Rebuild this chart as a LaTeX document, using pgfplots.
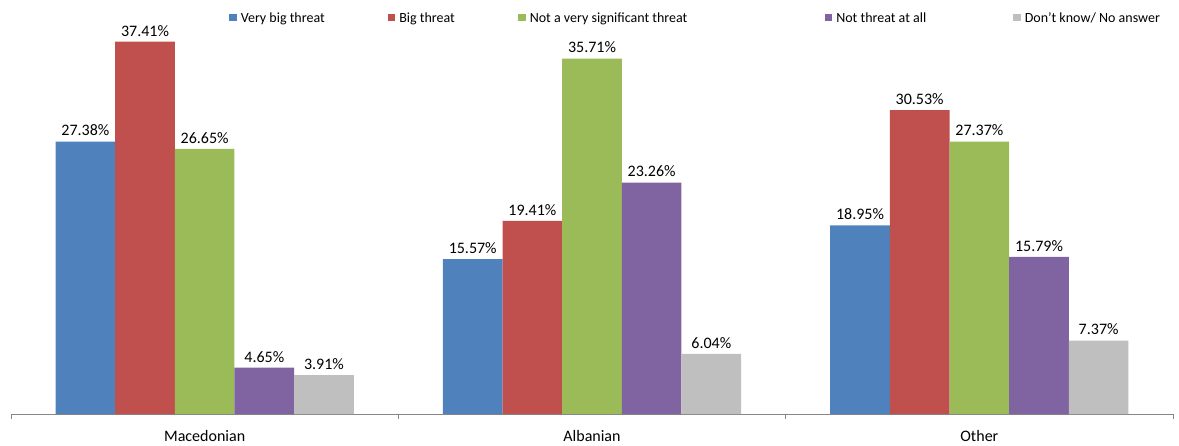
\documentclass[border=0pt]{standalone}
\usepackage{pgfplots}
\pgfplotsset{compat=1.18}
\usepackage{fontspec}
\setmainfont{Carlito}
\definecolor{cblue}{HTML}{4F81BD}
\definecolor{cred}{HTML}{C0504D}
\definecolor{cgreen}{HTML}{9BBB59}
\definecolor{cpurple}{HTML}{8064A2}
\definecolor{cgray}{HTML}{BFBFBF}
\definecolor{axgray}{HTML}{868686}
\begin{document}
\begin{tikzpicture}
\begin{axis}[
  scale only axis,
  width=1162pt, height=411pt,
  xmin=-0.5, xmax=2.5,
  ymin=0, ymax=41.3,
  ybar=0pt,
  bar width=0.154,
  axis x line*=bottom,
  axis y line=none,
  x axis line style={axgray, line width=0.8pt},
  xtick={0,1,2},
  xticklabels={Macedonian,Albanian,Other},
  minor xtick={-0.5,0.5,1.5,2.5},
  major tick length=0pt,
  minor tick length=5pt,
  xtick align=outside,
  minor tick style={axgray, line width=0.8pt},
  xticklabel style={font=\fontsize{16}{18}\selectfont, yshift=-13pt},
  nodes near coords={\pgfmathprintnumber[fixed,fixed zerofill,precision=2,assume math mode=true]{\pgfplotspointmeta}\%},
  every node near coord/.append style={font=\fontsize{16}{18}\selectfont, black, yshift=2pt},
  legend columns=5,
  legend style={draw=none, fill=none, at={(rel axis cs:1,1)}, anchor=north east, xshift=0pt, yshift=-4pt,
    font=\fontsize{14}{16}\selectfont, /tikz/every odd column/.append style={column sep=2pt}},
  legend image code/.code={\fill[#1] (0pt,-3.6pt) rectangle (7.5pt,3.9pt);},
  clip=false,
]
\addplot[fill=cblue, draw=none] coordinates {(0,27.38) (1,15.57) (2,18.95)};
\addplot[fill=cred, draw=none] coordinates {(0,37.41) (1,19.41) (2,30.53)};
\addplot[fill=cgreen, draw=none] coordinates {(0,26.65) (1,35.71) (2,27.37)};
\addplot[fill=cpurple, draw=none] coordinates {(0,4.65) (1,23.26) (2,15.79)};
\addplot[fill=cgray, draw=none] coordinates {(0,3.91) (1,6.04) (2,7.37)};
\legend{\makebox[145pt][l]{\strut Very big threat},\makebox[117pt][l]{\strut Big threat},\makebox[293pt][l]{\strut Not a very significant threat},\makebox[175pt][l]{\strut Not threat at all},\makebox[143pt][l]{\strut Don’t know/ No answer}}
\path (rel axis cs:0,0) ++(-11pt,-31pt) coordinate (bbA);
\path (rel axis cs:1,1) ++(6pt,3pt) coordinate (bbB);
\path (bbA) rectangle (bbB);
\end{axis}
\end{tikzpicture}
\end{document}
